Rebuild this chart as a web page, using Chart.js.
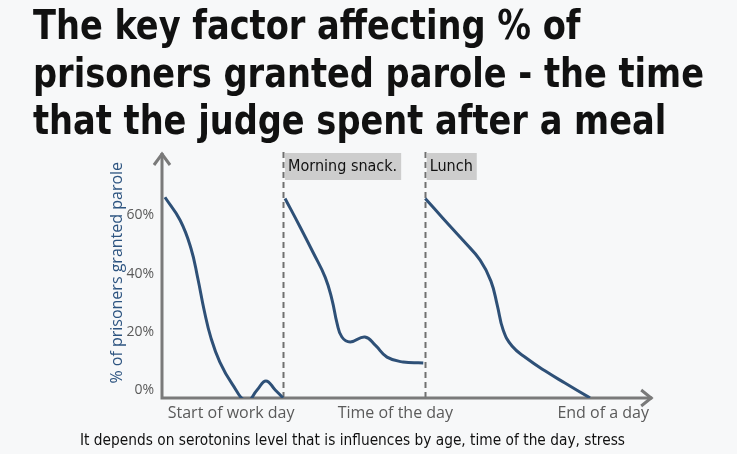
<!DOCTYPE html>
<html>
<head>
<meta charset="utf-8">
<script src="https://cdn.jsdelivr.net/npm/chart.js@4.4.0/dist/chart.umd.min.js"></script>
<style>
  html, body { margin: 0; padding: 0; background: #f7f8f9; }
  #wrap { width: 737px; height: 454px; }
</style>
</head>
<body>
<div id="wrap"><canvas id="canevas" width="737" height="454"></canvas></div>
<script>
// session 1 : start of work day -> morning snack
var morningTime = [0.6, 3.7, 5.9, 7.3, 8.6, 10.0, 11.8, 14.3, 17.3, 19.4, 21.2, 23.1, 24.7];
var morningRate = [66.2, 58.3, 48.7, 38.4, 27.4, 17.8, 9.6, 2.1, -3.8, 0, 3.1, 0, -2.7];
// session 2 : morning snack -> lunch
var snackTime = [25.1, 28.2, 30.8, 33.3, 34.7, 35.7, 36.7, 38.4, 41.4, 43.5, 45.9, 49.2, 53.3];
var snackRate = [65.8, 55.9, 47.3, 38.7, 30.9, 23.0, 18.2, 16.5, 18.2, 15.4, 11.3, 9.6, 9.3];
// session 3 : lunch -> end of day
var lunchTime = [53.7, 57.3, 61.4, 64.9, 67.1, 68.4, 69.6, 71.4, 74.3, 78.2, 82.2, 87.3];
var lunchRate = [65.8, 59.0, 51.4, 44.6, 37.4, 29.1, 20.6, 15.1, 11.0, 6.5, 2.4, -2.7];

var breakTimes = [24.7, 53.6];
var breakLabels = ["Morning snack.", "Lunch"];

var yTicks = [0, 20, 40, 60];
var xTickPos = [14.1, 47.6, 90];
var xTickLabels = ["Start of work day", "Time of the day", "End of a day"];

var titleLines = ["The key factor affecting % of", "prisoners granted parole - the time", "that the judge spent after a meal"];
var caption = "It depends on serotonins level that is influences by age, time of the day, stress";

var xEnd = 100; // where the x arrow ends

function pts(xs, ys) {
	return xs.map(function (x, i) { return {x: x, y: ys[i]}; });
}

var lineStyle = {
	borderColor: "#2e5077",
	borderWidth: 3,
	pointRadius: 0,
	tension: 0.45,
	fill: false
};

var extras = {
	id: "extras",
	beforeDatasetsDraw: function (chart) {
		var ctx = chart.ctx, xs = chart.scales.x, area = chart.chartArea;
		var x0 = area.left, y0 = area.bottom, top = 152;
		var xr = xs.getPixelForValue(xEnd);
		ctx.save();
		// title, squeezed a bit to the width of the original condensed face
		ctx.font = "bold 40px 'DejaVu Sans Condensed', 'DejaVu Sans', sans-serif";
		ctx.fillStyle = "#111";
		ctx.textAlign = "left";
		ctx.textBaseline = "alphabetic";
		var sx = 671 / ctx.measureText(titleLines[1]).width;
		ctx.save();
		ctx.translate(33, 0);
		ctx.scale(sx, 1);
		titleLines.forEach(function (t, i) { ctx.fillText(t, 0, 39 + i * 47.5); });
		ctx.restore();
		// dashed break lines + label boxes
		ctx.strokeStyle = "#707070";
		ctx.lineWidth = 2;
		ctx.setLineDash([6, 4]);
		breakTimes.forEach(function (t) {
			var px = Math.round(xs.getPixelForValue(t)) + 0.5;
			ctx.beginPath();
			ctx.moveTo(px, top);
			ctx.lineTo(px, y0);
			ctx.stroke();
		});
		ctx.setLineDash([]);
		ctx.font = "16px 'DejaVu Sans Condensed', 'DejaVu Sans', sans-serif";
		ctx.textBaseline = "middle";
		breakTimes.forEach(function (t, i) {
			var px = xs.getPixelForValue(t) + 2;
			var w = ctx.measureText(breakLabels[i]).width + 7;
			ctx.fillStyle = "#cdcdcd";
			ctx.fillRect(px, 153, w, 27);
			ctx.fillStyle = "#111";
			ctx.fillText(breakLabels[i], px + 3, 167);
		});
		// axes with arrows
		ctx.strokeStyle = "#7a7a7a";
		ctx.lineWidth = 3;
		ctx.beginPath();
		ctx.moveTo(x0, y0 + 1.5);
		ctx.lineTo(x0, top + 1);
		ctx.moveTo(x0 - 1.5, y0);
		ctx.lineTo(xr, y0);
		ctx.stroke();
		ctx.beginPath();
		ctx.moveTo(x0 - 8, top + 13);
		ctx.lineTo(x0, top + 2);
		ctx.lineTo(x0 + 8, top + 13);
		ctx.moveTo(xr - 11, y0 - 8);
		ctx.lineTo(xr - 1, y0);
		ctx.lineTo(xr - 11, y0 + 8);
		ctx.stroke();
		// caption
		ctx.fillStyle = "#111";
		ctx.font = "15.4px 'DejaVu Sans Condensed', 'DejaVu Sans', sans-serif";
		ctx.fillText(caption, 80, 441, 545);
		ctx.restore();
	}
};

var c = document.getElementById("canevas");
var chart = new Chart(c.getContext("2d"), {
	type: "line",
	data: {
		datasets: [
			Object.assign({label: "morning", data: pts(morningTime, morningRate)}, lineStyle),
			Object.assign({label: "snack", data: pts(snackTime, snackRate)}, lineStyle),
			Object.assign({label: "lunch", data: pts(lunchTime, lunchRate)}, lineStyle)
		]
	},
	options: {
		responsive: false,
		animation: false,
		layout: {padding: {left: 32, right: 0, top: 160, bottom: 0}},
		plugins: {
			legend: {display: false},
			tooltip: {enabled: false},
			title: {display: false}
		},
		scales: {
			x: {
				type: "linear",
				min: 0,
				max: 117.3,
				grid: {display: false, drawTicks: false},
				border: {display: false},
				afterBuildTicks: function (s) { s.ticks = xTickPos.map(function (v) { return {value: v}; }); },
				afterFit: function (s) { s.height = 56; },
				ticks: {
					padding: 6,
					color: "#5a5a5a",
					font: {family: "'Open Sans', sans-serif", size: 16},
					maxRotation: 0,
					autoSkip: false,
					callback: function (v) { return xTickLabels[xTickPos.indexOf(v)]; }
				}
			},
			y: {
				min: -2.75,
				max: 79,
				grid: {display: false, drawTicks: false},
				border: {display: false},
				afterBuildTicks: function (s) { s.ticks = yTicks.map(function (v) { return {value: v}; }); },
				afterFit: function (s) { s.width = 130; },
				ticks: {
					padding: 8,
					color: "#5a5a5a",
					font: {family: "'Open Sans', sans-serif", size: 14},
					callback: function (v) { return v + "%"; }
				},
				title: {
					display: true,
					text: "   % of prisoners granted parole",
					color: "#2d5480",
					font: {family: "'Open Sans', sans-serif", size: 16},
					padding: {top: 76, bottom: 0}
				}
			}
		}
	},
	plugins: [extras]
});
</script>
</body>
</html>
